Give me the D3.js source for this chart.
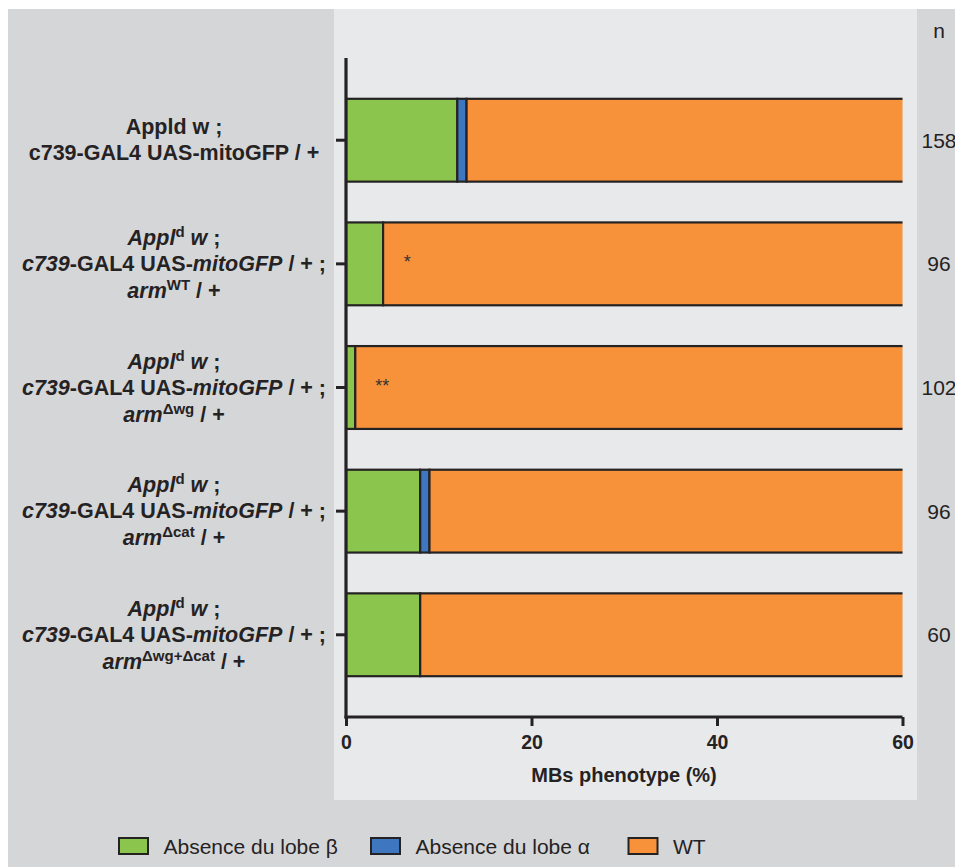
<!DOCTYPE html>
<html><head><meta charset="utf-8">
<script src="https://cdn.jsdelivr.net/npm/d3@7"></script>
<style>
html,body{margin:0;padding:0;background:#fff;}
svg{display:block;font-family:"Liberation Sans",Arial,Helvetica,sans-serif;}
</style></head>
<body>
<svg id="chart" width="955" height="867"></svg>
<script>
// ---- data ----
const categories = ["Appld w / c739 mitoGFP", "armWT", "armΔwg", "armΔcat", "armΔwg+Δcat"];
const labelLines = [
  ["Appld w ;", "c739-GAL4 UAS-mitoGFP / +"],
  ["<i>Appl</i><sup>d</sup><i> w</i> ;", "<i>c739</i>-GAL4 UAS-<i>mitoGFP</i> / + ;", "<i>arm</i><sup>WT</sup> / +"],
  ["<i>Appl</i><sup>d</sup><i> w</i> ;", "<i>c739</i>-GAL4 UAS-<i>mitoGFP</i> / + ;", "<i>arm</i><sup>Δwg</sup> / +"],
  ["<i>Appl</i><sup>d</sup><i> w</i> ;", "<i>c739</i>-GAL4 UAS-<i>mitoGFP</i> / + ;", "<i>arm</i><sup>Δcat</sup> / +"],
  ["<i>Appl</i><sup>d</sup><i> w</i> ;", "<i>c739</i>-GAL4 UAS-<i>mitoGFP</i> / + ;", "<i>arm</i><sup>Δwg+Δcat</sup> / +"]
];
const seriesNames = ["Absence du lobe β", "Absence du lobe α", "WT"];
const lobeBeta  = [12, 4, 1, 8, 8];
const lobeAlpha = [1, 0, 0, 1, 0];
const wildType  = [87, 96, 99, 91, 92];
const nValues   = [158, 96, 102, 96, 60];
const xTicks    = [0, 20, 40, 60];
const sigRow    = [1, 2];
const sigText   = ["*", "**"];
const sigAt     = [6.6, 3.9];
const axisTitle = "MBs phenotype (%)";

// ---- styling ----
const colors = ["#8bc54e", "#3e77bf", "#f7923a"];
const ink = "#252223";

const svg = d3.select("#chart");

// backgrounds
svg.append("rect").attr("x", 8).attr("y", 9).attr("width", 947).attr("height", 858).attr("fill", "#d5d6d8");
svg.append("rect").attr("x", 334).attr("y", 9).attr("width", 583).attr("height", 791).attr("fill", "#e8e9eb");

const x = d3.scaleLinear().domain([0, 60]).range([346, 902.5]);
const y = d3.scaleBand().domain(categories).range([58, 717]).paddingInner(0.33).paddingOuter(0.33);

const rows = categories.map((c, i) => ({cat: c, beta: lobeBeta[i], alpha: lobeAlpha[i], wt: wildType[i]}));
const stack = d3.stack().keys(["beta", "alpha", "wt"])(rows);

svg.append("clipPath").attr("id", "plotclip")
  .append("rect").attr("x", 346).attr("y", 40).attr("width", x(60) - 346).attr("height", 700);

const bars = svg.append("g").attr("clip-path", "url(#plotclip)");
stack.forEach((layer, li) => {
  bars.append("g").selectAll("rect").data(layer.filter(d => d[1] > d[0])).join("rect")
    .attr("x", d => x(d[0]))
    .attr("width", d => x(d[1]) - x(d[0]))
    .attr("y", d => y(d.data.cat))
    .attr("height", y.bandwidth())
    .attr("fill", colors[li])
    .attr("stroke", ink)
    .attr("stroke-width", 2.2);
});

// significance marks
sigRow.forEach((r, i) => {
  svg.append("text")
    .attr("x", x(sigAt[i]))
    .attr("y", y(categories[r]) + y.bandwidth() / 2 + 4)
    .attr("text-anchor", "middle")
    .attr("font-size", 18)
    .attr("fill", "#333")
    .text(sigText[i]);
});

// axes
const yAxis = svg.append("g").attr("transform", "translate(346,0)")
  .call(d3.axisLeft(y).tickSize(10).tickSizeOuter(0).tickFormat(""));
const xAxis = svg.append("g").attr("transform", "translate(0,717)")
  .call(d3.axisBottom(x).tickValues(xTicks).tickSize(9).tickSizeOuter(0).tickPadding(4));
[yAxis, xAxis].forEach(a => {
  a.select(".domain").attr("stroke", ink).attr("stroke-width", 3.2);
  a.selectAll(".tick line").attr("stroke", ink).attr("stroke-width", 3);
});
yAxis.selectAll(".tick text").remove();
// extend y axis line to join bottom axis
yAxis.select(".domain").attr("d", "M0,58V718.5");
xAxis.select(".domain").attr("d", "M" + (346 - 1.5) + ",0H" + x(60));
xAxis.selectAll(".tick text")
  .attr("font-family", "'Liberation Sans',Arial,sans-serif")
  .attr("font-size", 19.5).attr("font-weight", "bold").attr("fill", ink)
  .attr("dy", "0.95em");

svg.append("text").attr("x", 624).attr("y", 782).attr("text-anchor", "middle")
  .attr("font-size", 20).attr("font-weight", "bold").attr("fill", ink)
  .text(axisTitle);

// category labels with rich text
function addRich(textSel, markup) {
  const re = /<(i|sup)>(.*?)<\/\1>|([^<]+)/g;
  let m, restore = 0;
  while ((m = re.exec(markup)) !== null) {
    let ts;
    if (m[3] !== undefined) {
      ts = textSel.append("tspan").text(m[3]);
    } else if (m[1] === "i") {
      ts = textSel.append("tspan").attr("font-style", "italic").text(m[2]);
    } else {
      textSel.append("tspan").attr("font-size", 15).attr("dy", -8).text(m[2]);
      restore = 8;
      continue;
    }
    if (restore) { ts.attr("dy", restore); restore = 0; }
  }
}
labelLines.forEach((lines, i) => {
  const cy = y(categories[i]) + y.bandwidth() / 2;
  const offs = lines.length === 2 ? [-6, 20] : [-19, 7, 34];
  lines.forEach((ln, j) => {
    const t = svg.append("text").attr("x", 174).attr("y", cy + offs[j])
      .attr("text-anchor", "middle").attr("font-size", 21.5).attr("font-weight", "bold")
      .attr("fill", ink);
    addRich(t, ln);
  });
});

// n column
svg.append("text").attr("x", 939).attr("y", 38).attr("text-anchor", "middle")
  .attr("font-size", 21).attr("fill", ink).text("n");
nValues.forEach((v, i) => {
  svg.append("text").attr("x", 939).attr("y", y(categories[i]) + y.bandwidth() / 2 + 7.5)
    .attr("text-anchor", "middle").attr("font-size", 21).attr("fill", ink).text(v);
});

// legend
const legendX = [119, 371, 628.5];
const leg = svg.append("g");
seriesNames.forEach((s, i) => {
  leg.append("rect").attr("x", legendX[i]).attr("y", 838).attr("width", 29).attr("height", 16)
    .attr("fill", colors[i]).attr("stroke", ink).attr("stroke-width", 2);
  leg.append("text").attr("x", legendX[i] + 44.5).attr("y", 853.5)
    .attr("font-size", 21).attr("fill", ink).text(s);
});
</script>
</body></html>
